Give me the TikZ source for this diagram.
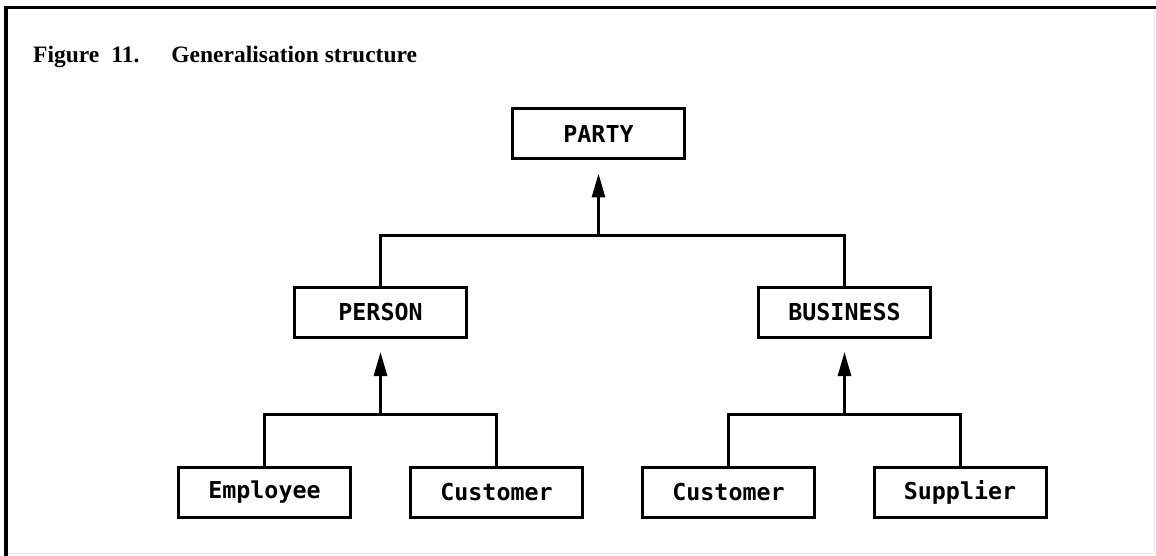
\documentclass[tikz,border=0pt]{standalone}
\usepackage{fontspec}
\usetikzlibrary{arrows.meta}
\newfontfamily\labelfont{DejaVu Sans Mono}
\newfontfamily\titlefont{Liberation Serif}
\begin{document}
\begin{tikzpicture}[x=1pt,y=-1pt,
  entity/.style={draw, line width=3pt, minimum width=172pt, minimum height=50pt,
    inner sep=0pt, font=\labelfont\bfseries\fontsize{23.3}{28}\selectfont},
  link/.style={line width=3pt},
  isa/.style={line width=3pt, -{Triangle[length=24pt,width=13pt]}, shorten >=13pt}]
  \useasboundingbox (0,0) rectangle (1156,556);
  % outer frame: heavy top and left rules, faint right and bottom
  \draw[black!8, line width=1pt] (1154,8) -- (1154,553) -- (6,553);
  \draw[line width=3.5pt] (1156,7.5) -- (6,7.5) -- (6,556);
  % caption
  \node[anchor=base west, inner sep=0pt, font=\titlefont\bfseries\fontsize{23.5}{27}\selectfont]
    (title) at (33,63) {Figure\hspace{12pt}11.\hspace{32pt}Generalisation structure};
  % entities
  \node[entity] (party) at (598.5,134) {PARTY};
  \node[entity] (person) at (380.5,312.5) {PERSON};
  \node[entity] (business) at (844.5,312.5) {BUSINESS};
  \node[entity] (employee) at (264.5,492) {Employee};
  \node[entity] (custa) at (496.5,492) {Customer};
  \node[entity] (custb) at (728.5,492) {Customer};
  \node[entity] (supplier) at (960,492) {Supplier};
  % junction points on the horizontal bars
  \coordinate (jparty) at (598.5,235.5);
  \coordinate (jperson) at (380.5,414);
  \coordinate (jbusiness) at (844.5,414);
  % generalisation links
  \draw[link] (person.north) |- (jparty) -| (business.north);
  \draw[isa] (jparty) -- (party.south);
  \draw[link] (employee.north) |- (jperson) -| (custa.north);
  \draw[isa] (jperson) -- (person.south);
  \draw[link] (custb.north) |- (jbusiness) -| (supplier.north);
  \draw[isa] (jbusiness) -- (business.south);
\end{tikzpicture}
\end{document}
